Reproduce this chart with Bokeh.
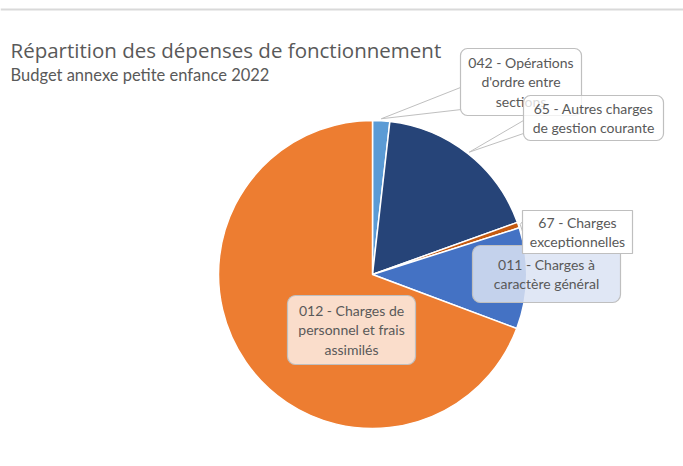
import numpy as np
from bokeh.plotting import figure
from bokeh.models import ColumnDataSource, Range1d
from bokeh.core.properties import value
from bokeh.embed import file_html
from bokeh.resources import INLINE

# ---- data ----
title = "Répartition des dépenses de fonctionnement"
subtitle = "Budget annexe petite enfance 2022"
categories = ["042", "65", "67", "011", "012"]
values = [1.8, 17.7, 0.6, 10.6, 69.3]
colors = ["#5B9BD5", "#264478", "#C55A11", "#4472C4", "#ED7D31"]
label_texts = [
    "042 - Opérations\nd'ordre entre\nsections",
    "65 - Autres charges\nde gestion courante",
    "67 - Charges\nexceptionnelles",
    "011 - Charges à\ncaractère général",
    "012 - Charges de\npersonnel et frais\nassimilés",
]

# ---- layout ----
W, H = 683, 466
def X(px): return px
def Y(py): return H - py

cx, cy, R = X(372), Y(274), 154

p = figure(width=W, height=H, x_range=Range1d(0, W), y_range=Range1d(0, H),
           output_backend="svg", toolbar_location=None,
           x_axis_location=None, y_axis_location=None, min_border=0,
           outline_line_color=None, background_fill_color="white")
p.grid.visible = False

vals = np.array(values, dtype=float)
frac = vals / vals.sum()
cum_end = np.cumsum(frac)
cum_start = cum_end - frac
start = np.pi / 2 - 2 * np.pi * cum_start
end = np.pi / 2 - 2 * np.pi * cum_end
mid = (start + end) / 2

src = ColumnDataSource(dict(start=list(start), end=list(end), color=colors, cat=categories))
p.wedge(x=cx, y=cy, radius=R, radius_units="screen", start_angle="start", end_angle="end",
        direction="clock", fill_color="color", line_color="white", line_width=1.5, source=src)

# top border line
p.segment(x0=[0], y0=[Y(9)], x1=[W], y1=[Y(9)], line_color="#D9D9D9", line_width=2)

# title / subtitle
p.text(x=[X(10)], y=[Y(49)], text=[title], text_font=value("Open Sans"), text_font_size="20.5px",
       text_color="#595959", text_baseline="alphabetic", text_align="left")
p.text(x=[X(10)], y=[Y(74)], text=[subtitle], text_font=value("Lato"), text_font_size="16.5px",
       text_color="#595959", text_baseline="alphabetic", text_align="left")

# label boxes (page coords): left, right, top, bottom
boxes = [
    (460, 581, 48, 115),
    (523, 663, 95, 140),
    (522, 632, 210, 253),
    (472, 620, 245, 302),
    (287, 415, 295, 364),
]
fills = ["white", "white", "white", "#DAE3F3", "#FBE3D4"]
alphas = [1.0, 0.78, 1.0, 0.85, 0.95]
radii = [7, 7, 0, 8, 8]
draw_order = [3, 4, 0, 1, 2]
# callout wedges: (index, edge points on box)
callouts = {
    0: [(460, 87), (461, 109)],
    1: [(523, 120), (523, 133)],
    2: [(522, 221), (522, 231)],
}

for i in draw_order:
    l, r, t, b = boxes[i]
    if i in callouts:
        (ax_, ay_), (bx_, by_) = callouts[i]
        rr = R + 2
        axp = cx + rr * np.cos(mid[i])
        ayp = cy + rr * np.sin(mid[i])
        p.patch(x=[axp, X(ax_), X(bx_)], y=[ayp, Y(ay_), Y(by_)], fill_color="white",
                line_color="#BFBFBF", line_width=1)
    p.quad(left=[X(l)], right=[X(r)], top=[Y(t)], bottom=[Y(b)], border_radius=radii[i],
           fill_color=fills[i], fill_alpha=alphas[i], line_color="#BFBFBF", line_width=1.2)
    p.text(x=[X((l + r) / 2)], y=[Y((t + b) / 2)], text=[label_texts[i]],
           text_font=value("Lato"), text_font_size="14px", text_color="#595959",
           text_align="center", text_baseline="middle", text_line_height=1.15)

open("out.html", "w").write(file_html(p, INLINE))
